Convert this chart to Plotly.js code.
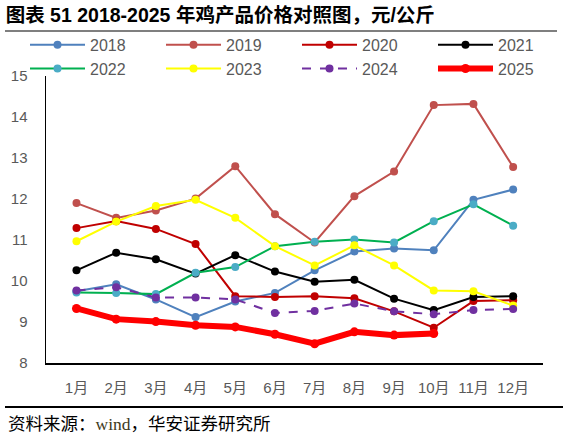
<!DOCTYPE html>
<html>
<head>
<meta charset="utf-8">
<script src="https://cdn.plot.ly/plotly-3.0.1.min.js"></script>
<style>
  html, body { margin: 0; padding: 0; background: #fff; }
  #wrap { position: relative; width: 569px; height: 437px; }
  #chart { width: 569px; height: 437px; }
  .rule { position: absolute; left: 5px; height: 0; z-index: 10; }
  #rule-top { top: 30px; width: 552px; border-top: 2px solid #7f7f7f; }
  #rule-bottom { top: 406px; width: 558px; border-top: 1.5px solid #000; }
</style>
</head>
<body>
<div id="wrap">
  <div id="chart"></div>
  <div class="rule" id="rule-top"></div>
  <div class="rule" id="rule-bottom"></div>
</div>
<script>
// 月份
const months = ['1月', '2月', '3月', '4月', '5月', '6月', '7月', '8月', '9月', '10月', '11月', '12月'];

// 鸡产品价格，元/公斤
const y2018 = [9.75, 9.92, 9.55, 9.12, 9.50, 9.71, 10.26, 10.72, 10.79, 10.75, 11.98, 12.23];
const y2019 = [11.90, 11.54, 11.72, 12.01, 12.80, 11.63, 10.94, 12.07, 12.67, 14.29, 14.32, 12.78];
const y2020 = [11.29, 11.46, 11.27, 10.90, 9.63, 9.61, 9.63, 9.58, 9.26, 8.86, 9.51, 9.53];
const y2021 = [10.26, 10.69, 10.53, 10.18, 10.63, 10.23, 9.98, 10.03, 9.57, 9.29, 9.61, 9.63];
const y2022 = [9.72, 9.71, 9.68, 10.20, 10.34, 10.85, 10.96, 11.01, 10.94, 11.46, 11.87, 11.35];
const y2023 = [10.97, 11.45, 11.83, 11.98, 11.54, 10.85, 10.38, 10.87, 10.38, 9.77, 9.75, 9.40];
const y2024 = [9.77, 9.85, 9.60, 9.60, 9.55, 9.22, 9.27, 9.45, 9.26, 9.19, 9.29, 9.32];
const y2025 = [9.33, 9.07, 9.01, 8.92, 8.88, 8.70, 8.47, 8.76, 8.68, 8.72];

const yearNames = ['2018', '2019', '2020', '2021', '2022', '2023', '2024', '2025'];
const yearValues = [y2018, y2019, y2020, y2021, y2022, y2023, y2024, y2025];

const lineColors = ['#4F81BD', '#C0504D', '#C00000', '#000000', '#00B050', '#FFFF00', '#7030A0', '#FF0000'];
const markerColors = ['#4F81BD', '#C0504D', '#C00000', '#000000', '#4BACC6', '#FFFF00', '#7030A0', '#FF0000'];

const traces = yearNames.map((name, i) => ({
  x: months.slice(0, yearValues[i].length),
  y: yearValues[i],
  name: name,
  type: 'scatter',
  mode: 'lines+markers',
  line: {
    color: lineColors[i],
    width: name === '2025' ? 6 : 2,
    dash: name === '2024' ? 'dash' : 'solid'
  },
  marker: {
    color: markerColors[i],
    size: name === '2025' ? 9 : 8
  }
}));

const tickFont = { family: 'Liberation Sans, Noto Sans CJK SC, sans-serif', size: 15, color: '#595959' };

// 标题下方与图表底部的分隔线（用无文字的注释色块画出）
const ruleBar = (y, w, h, color) => ({
  xref: 'paper', yref: 'paper',
  x: -0.0825, xanchor: 'left',
  y: y, yanchor: 'middle',
  text: ' ',
  showarrow: false,
  width: w, height: h,
  borderpad: 0, borderwidth: 0,
  bgcolor: color,
  font: { size: 1 }
});

const layout = {
  width: 569,
  height: 437,
  margin: { l: 46, r: 26, t: 76, b: 74 },
  paper_bgcolor: '#ffffff',
  plot_bgcolor: '#ffffff',
  showlegend: true,
  title: {
    text: '<b>图表 51 2018-2025 年鸡产品价格对照图，元/公斤</b>',
    font: { family: 'Liberation Sans, Noto Sans CJK SC, sans-serif', size: 19.5, color: '#000000' },
    x: 0.01,
    xanchor: 'left',
    y: 0.965,
    yanchor: 'middle'
  },
  legend: {
    orientation: 'h',
    x: -0.04,
    xanchor: 'left',
    y: 1.168,
    yanchor: 'top',
    entrywidth: 66,
    entrywidthmode: 'pixels',
    itemwidth: 55,
    tracegroupgap: 0,
    font: { family: 'Liberation Sans, sans-serif', size: 16, color: '#595959' },
    bgcolor: 'rgba(0,0,0,0)'
  },
  xaxis: {
    type: 'category',
    showline: true,
    linecolor: '#000000',
    linewidth: 1.5,
    showgrid: false,
    zeroline: false,
    ticks: '',
    ticklabelstandoff: 10,
    tickfont: tickFont
  },
  yaxis: {
    range: [8, 15],
    dtick: 1,
    showline: true,
    linecolor: '#000000',
    linewidth: 1.5,
    showgrid: false,
    zeroline: false,
    ticks: '',
    ticklabelstandoff: 14,
    tickfont: tickFont
  },
  annotations: [
    ruleBar(1.1568, 552, 2, '#7f7f7f'),
    ruleBar(-0.1533, 558, 1.5, '#000000'),
    {
      xref: 'paper', yref: 'paper',
      x: -0.08, xanchor: 'left',
      y: -0.209, yanchor: 'middle',
      text: '资料来源：<span style="font-family:Liberation Serif;color:#403a20">wind</span>，华安证券研究所',
      showarrow: false,
      font: { family: 'Noto Sans CJK SC, sans-serif', size: 17.5, color: '#000000' }
    }
  ]
};

Plotly.newPlot('chart', traces, layout, { staticPlot: true });
</script>
</body>
</html>
